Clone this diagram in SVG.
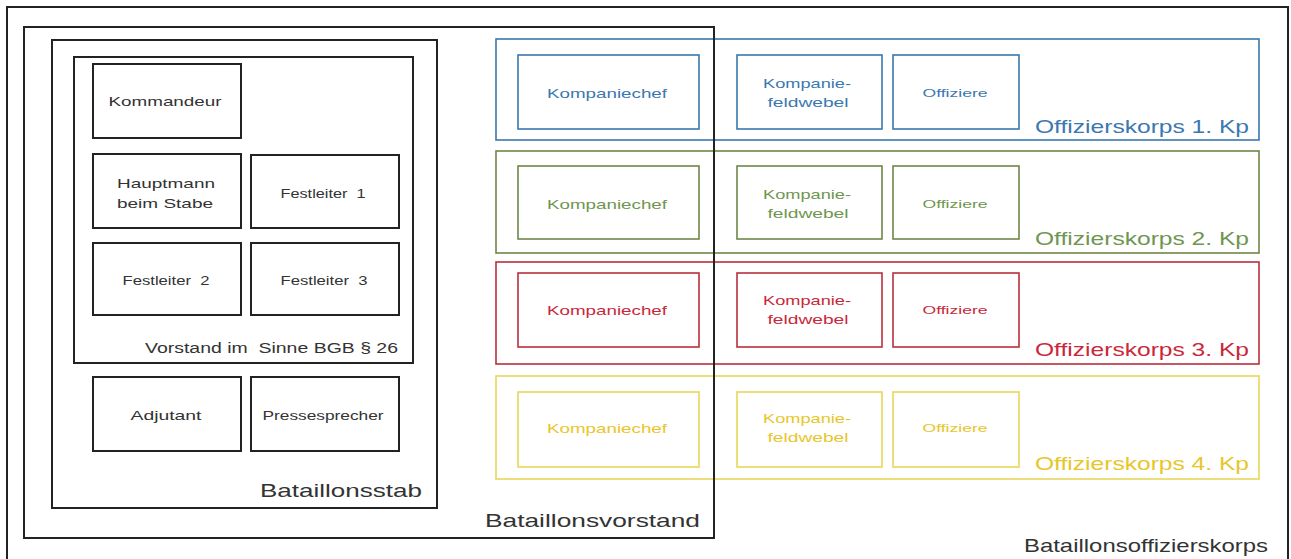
<svg xmlns="http://www.w3.org/2000/svg" width="1291" height="559" viewBox="0 0 1291 559">
<style>
text{font-family:"Liberation Sans",Arial,sans-serif;text-anchor:middle}
.blk{fill:none;stroke:#222;stroke-width:2}
.lab{fill:#333}
.s{font-size:13px}
.o{font-size:11.5px}
.big{font-size:19px;text-anchor:end}
.mid{font-size:15.5px;text-anchor:end}
.b rect{fill:none;stroke:#3a77ad;stroke-width:1.6}.b text{fill:#3b78b0}
.g rect{fill:none;stroke:#6e8748;stroke-width:1.6}.g text{fill:#6f9650}
.r rect{fill:none;stroke:#b8303e;stroke-width:1.6}.r text{fill:#c9283a}
.y rect{fill:none;stroke:#e8d85a;stroke-width:1.6}.y text{fill:#e8c62a}
</style>
<rect width="1291" height="559" fill="#fff"/>
<g id="kp1" class="b">
<rect x="496" y="39" width="763" height="101"/>
<text class="big" x="1249" y="133" textLength="214" lengthAdjust="spacingAndGlyphs">Offizierskorps 1. Kp</text>
<g id="kp1-chef"><rect x="518" y="55" width="181" height="74"/><text class="s" x="607" y="98" textLength="120" lengthAdjust="spacingAndGlyphs">Kompaniechef</text></g>
<g id="kp1-feldwebel"><rect x="737" y="55" width="145" height="74"/><text class="s" x="807" y="88" textLength="88" lengthAdjust="spacingAndGlyphs">Kompanie-</text><text class="s" x="808" y="107" textLength="81" lengthAdjust="spacingAndGlyphs">feldwebel</text></g>
<g id="kp1-offiziere"><rect x="893" y="55" width="126" height="74"/><text class="o" x="955" y="97" textLength="65" lengthAdjust="spacingAndGlyphs">Offiziere</text></g>
</g>
<g id="kp2" class="g">
<rect x="496" y="151" width="763" height="102"/>
<text class="big" x="1249" y="245" textLength="214" lengthAdjust="spacingAndGlyphs">Offizierskorps 2. Kp</text>
<g id="kp2-chef"><rect x="518" y="166" width="181" height="73"/><text class="s" x="607" y="209" textLength="120" lengthAdjust="spacingAndGlyphs">Kompaniechef</text></g>
<g id="kp2-feldwebel"><rect x="737" y="166" width="145" height="73"/><text class="s" x="807" y="199" textLength="88" lengthAdjust="spacingAndGlyphs">Kompanie-</text><text class="s" x="808" y="218" textLength="81" lengthAdjust="spacingAndGlyphs">feldwebel</text></g>
<g id="kp2-offiziere"><rect x="893" y="166" width="126" height="73"/><text class="o" x="955" y="208" textLength="65" lengthAdjust="spacingAndGlyphs">Offiziere</text></g>
</g>
<g id="kp3" class="r">
<rect x="496" y="262" width="763" height="102"/>
<text class="big" x="1249" y="356" textLength="214" lengthAdjust="spacingAndGlyphs">Offizierskorps 3. Kp</text>
<g id="kp3-chef"><rect x="518" y="273" width="181" height="74"/><text class="s" x="607" y="315" textLength="120" lengthAdjust="spacingAndGlyphs">Kompaniechef</text></g>
<g id="kp3-feldwebel"><rect x="737" y="273" width="145" height="74"/><text class="s" x="807" y="305" textLength="88" lengthAdjust="spacingAndGlyphs">Kompanie-</text><text class="s" x="808" y="324" textLength="81" lengthAdjust="spacingAndGlyphs">feldwebel</text></g>
<g id="kp3-offiziere"><rect x="893" y="273" width="126" height="74"/><text class="o" x="955" y="314" textLength="65" lengthAdjust="spacingAndGlyphs">Offiziere</text></g>
</g>
<g id="kp4" class="y">
<rect x="496" y="376" width="763" height="103"/>
<text class="big" x="1249" y="470" textLength="214" lengthAdjust="spacingAndGlyphs">Offizierskorps 4. Kp</text>
<g id="kp4-chef"><rect x="518" y="392" width="181" height="75"/><text class="s" x="607" y="433" textLength="120" lengthAdjust="spacingAndGlyphs">Kompaniechef</text></g>
<g id="kp4-feldwebel"><rect x="737" y="392" width="145" height="75"/><text class="s" x="807" y="423" textLength="88" lengthAdjust="spacingAndGlyphs">Kompanie-</text><text class="s" x="808" y="442" textLength="81" lengthAdjust="spacingAndGlyphs">feldwebel</text></g>
<g id="kp4-offiziere"><rect x="893" y="392" width="126" height="75"/><text class="o" x="955" y="432" textLength="65" lengthAdjust="spacingAndGlyphs">Offiziere</text></g>
</g>
<g id="bataillonsoffizierskorps">
<rect class="blk" x="7" y="7" width="1281" height="560"/>
<text class="lab big" x="1268" y="552" textLength="244" lengthAdjust="spacingAndGlyphs">Bataillonsoffizierskorps</text>
</g>
<g id="bataillonsvorstand">
<rect class="blk" x="24" y="27" width="690" height="511"/>
<text class="lab big" x="700" y="527" textLength="215" lengthAdjust="spacingAndGlyphs">Bataillonsvorstand</text>
</g>
<g id="bataillonsstab">
<rect class="blk" x="52" y="40" width="385" height="468"/>
<text class="lab big" x="422" y="497" textLength="162" lengthAdjust="spacingAndGlyphs">Bataillonsstab</text>
</g>
<g id="vorstand-bgb">
<rect class="blk" x="74" y="57" width="339" height="306"/>
<text class="lab mid" x="398" y="353" textLength="253" lengthAdjust="spacingAndGlyphs" xml:space="preserve">Vorstand im  Sinne BGB § 26</text>
</g>
<g id="kommandeur"><rect class="blk" x="93" y="64" width="148" height="74"/><text class="lab s" x="165" y="106" textLength="113" lengthAdjust="spacingAndGlyphs">Kommandeur</text></g>
<g id="hauptmann"><rect class="blk" x="93" y="154" width="148" height="74"/><text class="lab s" x="166" y="188" textLength="98" lengthAdjust="spacingAndGlyphs">Hauptmann</text><text class="lab s" x="165" y="208" textLength="96" lengthAdjust="spacingAndGlyphs">beim Stabe</text></g>
<g id="festleiter1"><rect class="blk" x="251" y="155" width="148" height="73"/><text class="lab s" x="323" y="198" textLength="85" lengthAdjust="spacingAndGlyphs" xml:space="preserve">Festleiter  1</text></g>
<g id="festleiter2"><rect class="blk" x="93" y="243" width="148" height="72"/><text class="lab s" x="166" y="285" textLength="87" lengthAdjust="spacingAndGlyphs" xml:space="preserve">Festleiter  2</text></g>
<g id="festleiter3"><rect class="blk" x="251" y="243" width="148" height="72"/><text class="lab s" x="324" y="285" textLength="87" lengthAdjust="spacingAndGlyphs" xml:space="preserve">Festleiter  3</text></g>
<g id="adjutant"><rect class="blk" x="93" y="377" width="148" height="74"/><text class="lab s" x="166" y="420" textLength="71" lengthAdjust="spacingAndGlyphs">Adjutant</text></g>
<g id="pressesprecher"><rect class="blk" x="251" y="377" width="148" height="74"/><text class="lab s" x="323" y="420" textLength="121" lengthAdjust="spacingAndGlyphs">Pressesprecher</text></g>
<g id="connectors"/>
</svg>
